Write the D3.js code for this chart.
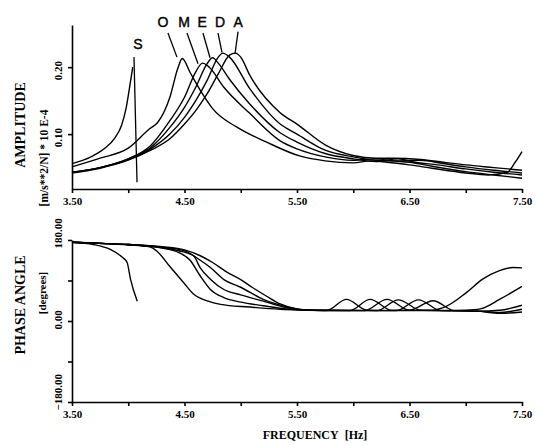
<!DOCTYPE html>
<html>
<head>
<meta charset="utf-8">
<script src="https://cdn.jsdelivr.net/npm/d3@7"></script>
<style>
  body { margin: 0; background: #fff; }
  .axis path, .axis line { stroke: #000; stroke-width: 1.6; }
  .axis text { font-family: "Liberation Serif", serif; font-weight: bold; font-size: 11px; fill: #000; }
  .curve { fill: none; stroke: #000; stroke-width: 1.4; stroke-linejoin: round; }
  .title { font-family: "Liberation Serif", serif; font-weight: bold; fill: #000; }
  .tag { font-family: "Liberation Sans", sans-serif; font-size: 14px; fill: #000; stroke: #000; stroke-width: 0.4; }
</style>
</head>
<body>
<div id="chart"></div>
<script>
// x axis
var freqTicks = [3.5, 4.0, 4.5, 5.0, 5.5, 6.0, 6.5, 7.0, 7.5];
var freqLabels = [3.5, 4.5, 5.5, 6.5, 7.5];
var ampTicks = [0.10, 0.20];
var phaseTicks = [-180, -90, 0, 90, 180];
var phaseLabels = [-180, 0, 180];

// amplitude curves [freq, amp]
var ampS = [[3.5,0.056],[3.6,0.061],[3.69,0.068],[3.8,0.08],[3.88,0.094],[3.94,0.113],[3.98,0.138],[4.01,0.168],[4.04,0.2]];
var ampO = [[3.5,0.051],[3.75,0.064],[4.0,0.079],[4.19,0.108],[4.26,0.117],[4.37,0.155],[4.44,0.198],[4.48,0.213],[4.55,0.192],[4.66,0.16],[4.75,0.138],[4.97,0.11],[5.23,0.088],[5.53,0.067],[5.75,0.06],[6.0,0.057],[6.15,0.06],[6.3,0.058],[6.5,0.054],[6.7,0.049],[7.0,0.042],[7.2,0.039],[7.37,0.043],[7.44,0.058],[7.5,0.074]];
var ampM = [[3.5,0.043],[3.75,0.05],[4.0,0.063],[4.2,0.083],[4.37,0.12],[4.5,0.155],[4.6,0.193],[4.66,0.206],[4.72,0.2],[4.85,0.17],[5.08,0.131],[5.35,0.09],[5.5,0.078],[5.75,0.066],[6.0,0.061],[6.2,0.063],[6.35,0.06],[6.5,0.058],[6.7,0.052],[7.0,0.044],[7.25,0.039],[7.5,0.034]];
var ampE = [[3.5,0.043],[3.75,0.05],[4.0,0.063],[4.2,0.08],[4.37,0.11],[4.5,0.14],[4.6,0.17],[4.7,0.205],[4.75,0.214],[4.8,0.206],[4.9,0.182],[5.08,0.145],[5.35,0.102],[5.5,0.088],[5.75,0.071],[6.0,0.063],[6.2,0.059],[6.4,0.063],[6.55,0.058],[6.75,0.054],[7.0,0.048],[7.25,0.043],[7.5,0.039]];
var ampD = [[3.5,0.043],[3.75,0.05],[4.0,0.062],[4.2,0.078],[4.37,0.1],[4.5,0.125],[4.6,0.15],[4.7,0.18],[4.8,0.215],[4.84,0.221],[4.9,0.215],[5.08,0.168],[5.35,0.115],[5.5,0.1],[5.75,0.076],[6.0,0.066],[6.2,0.061],[6.4,0.06],[6.6,0.061],[6.8,0.056],[7.0,0.051],[7.25,0.046],[7.5,0.042]];
var ampA = [[3.5,0.042],[3.75,0.049],[4.0,0.061],[4.2,0.076],[4.37,0.093],[4.5,0.115],[4.6,0.135],[4.7,0.16],[4.8,0.19],[4.9,0.218],[4.95,0.221],[5.0,0.215],[5.08,0.188],[5.35,0.132],[5.5,0.115],[5.75,0.084],[6.0,0.068],[6.2,0.064],[6.35,0.064],[6.6,0.062],[6.8,0.058],[7.0,0.054],[7.25,0.05],[7.5,0.046]];

// phase curves [freq, degrees]
var phS = [[3.5,175],[3.69,170],[3.84,159],[3.95,141],[3.99,130],[4.02,93],[4.08,44]];
var phO = [[3.5,175],[3.8,172],[4.0,169],[4.19,165],[4.26,154],[4.37,121],[4.49,86],[4.58,60],[4.71,44],[4.82,37],[5.08,31],[5.35,26],[5.6,24],[5.76,23],[5.94,48],[6.12,24],[6.3,23],[6.5,23],[6.7,24],[6.83,33],[7.0,62],[7.15,93],[7.3,112],[7.42,119],[7.5,118]];
var phM = [[3.5,175],[3.8,172],[4.0,170],[4.3,162],[4.45,152],[4.55,135],[4.64,100],[4.73,70],[4.85,52],[5.0,42],[5.2,34],[5.4,27],[5.6,24],[5.97,23],[6.15,48],[6.34,24],[6.5,24],[6.8,23],[7.0,24],[7.13,27],[7.3,48],[7.5,77]];
var phE = [[3.5,175],[3.8,172],[4.0,170],[4.3,163],[4.45,156],[4.58,145],[4.64,118],[4.73,93],[4.85,70],[5.0,58],[5.2,44],[5.4,30],[5.6,24],[6.1,23],[6.3,48],[6.5,24],[6.71,45],[6.9,23],[7.1,22],[7.3,24],[7.5,35]];
var phD = [[3.5,175],[3.8,172],[4.0,170],[4.3,164],[4.5,156],[4.64,135],[4.73,119],[4.85,92],[5.0,75],[5.2,48],[5.4,32],[5.6,24],[6.21,23],[6.4,47],[6.6,24],[6.9,23],[7.1,22],[7.3,19],[7.5,26]];
var phA = [[3.5,175],[3.8,172],[4.0,170],[4.3,165],[4.5,158],[4.64,145],[4.75,130],[4.88,108],[5.0,92],[5.1,75],[5.23,55],[5.35,38],[5.5,27],[5.65,24],[6.38,23],[6.58,47],[6.78,23],[7.1,22],[7.3,17],[7.5,20]];

var ampSeries = [ampS, ampO, ampM, ampE, ampD, ampA];
var phSeries = [phS, phO, phM, phE, phD, phA];

// curve tags and their leader lines (data units)
var tagNames = ["S", "O", "M", "E", "D", "A"];
var tagFreq = [4.087, 4.309, 4.496, 4.656, 4.816, 4.976];
var tagAmp = [0.227, 0.260, 0.260, 0.260, 0.260, 0.260];
var leadFrom = [[4.051,0.215],[4.353,0.251],[4.522,0.251],[4.664,0.251],[4.798,0.251],[4.976,0.253]];
var leadTo = [[4.078,0.028],[4.433,0.215],[4.62,0.205],[4.727,0.214],[4.833,0.222],[4.949,0.220]];

var svg = d3.select("#chart").append("svg")
    .attr("width", 538)
    .attr("height", 445);

var x = d3.scaleLinear().domain([3.5, 7.5]).range([72, 522]);
var yAmp = d3.scaleLinear().domain([0.018, 0.263]).range([189, 25]);
var yPh = d3.scaleLinear().domain([-180, 180]).range([402, 240]);

function fmtFreq(d) {
  return freqLabels.indexOf(d) >= 0 ? d3.format(".2f")(d) : "";
}

// top panel axes
svg.append("g")
    .attr("class", "axis")
    .attr("transform", "translate(0," + yAmp.range()[0] + ")")
    .call(d3.axisBottom(x).tickValues(freqTicks).tickFormat(fmtFreq).tickSize(4).tickSizeOuter(0).tickPadding(4));

svg.append("g")
    .attr("class", "axis yamp")
    .attr("transform", "translate(" + x.range()[0] + ",0)")
    .call(d3.axisLeft(yAmp).tickValues(ampTicks).tickFormat(d3.format(".2f")).tickSize(4).tickSizeOuter(0));

// bottom panel axes
svg.append("g")
    .attr("class", "axis")
    .attr("transform", "translate(0," + yPh.range()[0] + ")")
    .call(d3.axisBottom(x).tickValues(freqTicks).tickFormat(fmtFreq).tickSize(4).tickSizeOuter(0).tickPadding(4));

svg.append("g")
    .attr("class", "axis yph")
    .attr("transform", "translate(" + x.range()[0] + ",0)")
    .call(d3.axisLeft(yPh).tickValues(phaseTicks)
      .tickFormat(function(d) { return phaseLabels.indexOf(d) >= 0 ? d3.format(".2f")(d) : ""; })
      .tickSize(4).tickSizeOuter(0));

// rotate the y tick labels
svg.selectAll(".yamp .tick text")
    .attr("transform", "rotate(-90)")
    .attr("text-anchor", "middle")
    .attr("x", -3)
    .attr("y", -10)
    .attr("dy", 0);

svg.selectAll(".yph .tick text")
    .attr("transform", "rotate(-90)")
    .attr("text-anchor", "start")
    .attr("x", -8)
    .attr("y", -10)
    .attr("dy", 0);

// curves
var lineAmp = d3.line()
    .x(function(d) { return x(d[0]); })
    .y(function(d) { return yAmp(d[1]); })
    .curve(d3.curveMonotoneX);

var linePh = d3.line()
    .x(function(d) { return x(d[0]); })
    .y(function(d) { return yPh(d[1]); })
    .curve(d3.curveMonotoneX);

svg.append("g").selectAll("path")
    .data(ampSeries)
  .enter().append("path")
    .attr("class", "curve")
    .attr("d", lineAmp);

svg.append("g").selectAll("path")
    .data(phSeries)
  .enter().append("path")
    .attr("class", "curve")
    .attr("d", linePh);

// leader lines + tags
svg.append("g").selectAll("line")
    .data(tagNames)
  .enter().append("line")
    .attr("x1", function(d, i) { return x(leadFrom[i][0]); })
    .attr("y1", function(d, i) { return yAmp(leadFrom[i][1]); })
    .attr("x2", function(d, i) { return x(leadTo[i][0]); })
    .attr("y2", function(d, i) { return yAmp(leadTo[i][1]); })
    .style("stroke", "#000")
    .style("stroke-width", 1.3);

svg.append("g").selectAll("text")
    .data(tagNames)
  .enter().append("text")
    .attr("class", "tag")
    .attr("x", function(d, i) { return x(tagFreq[i]); })
    .attr("y", function(d, i) { return yAmp(tagAmp[i]); })
    .attr("text-anchor", "middle")
    .text(function(d) { return d; });

// axis titles
function vTitle(txt, cx, cy, size) {
  svg.append("text")
      .attr("class", "title")
      .attr("transform", "translate(" + cx + "," + cy + ") rotate(-90)")
      .attr("text-anchor", "middle")
      .style("font-size", size + "px")
      .text(txt);
}
vTitle("AMPLITUDE", 25, 125, 14);
vTitle("[m/s**2/N] * 10 E-4", 48, 158, 11.5);
vTitle("PHASE ANGLE", 25, 305, 14);
vTitle("[degrees]", 46, 293, 11);

svg.append("text")
    .attr("class", "title")
    .attr("x", 315)
    .attr("y", 439)
    .attr("text-anchor", "middle")
    .style("font-size", "12px")
    .text("FREQUENCY\u00a0\u00a0[Hz]");
</script>
</body>
</html>
